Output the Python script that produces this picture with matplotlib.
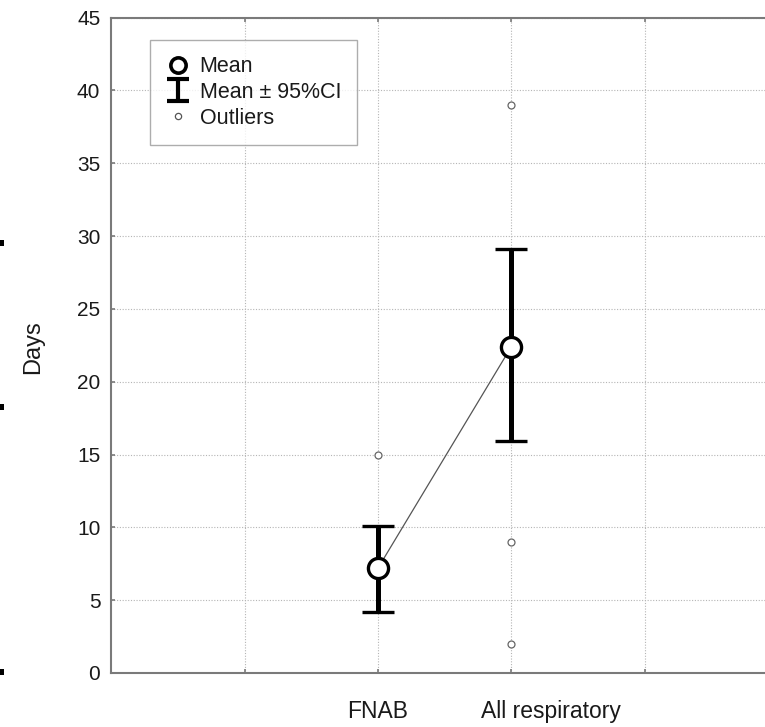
import numpy as np
import matplotlib
matplotlib.use('Agg')
from matplotlib import pyplot as plt
from matplotlib.lines import Line2D
from matplotlib.path import Path
from matplotlib.patches import Rectangle

plt.rcParams['font.family'] = ['Liberation Sans', 'DejaVu Sans']

# group summary values
groups = ['FNAB', 'All respiratory']
group_x = [2, 3]
means = np.array([7.2, 22.4])
ci_low = np.array([4.2, 15.9])
ci_high = np.array([10.1, 29.1])

# outliers per group
outlier_x = [2, 3, 3, 3]
outlier_y = [15, 39, 9, 2]

y_ticks = [0, 5, 10, 15, 20, 25, 30, 35, 40, 45]
x_grid = [1, 2, 3, 4]

W, H = 765, 727
fig = plt.figure(figsize=(W / 100, H / 100), dpi=100)
ax = fig.add_axes([111.4 / W, 1 - 673 / H, 666.5 / W, (673 - 17.5) / H])

ax.set_xlim(0, 5)
ax.set_ylim(0, 45)

gray = '#7a7a7a'
txt = '#1a1a1a'
for s in ['left', 'bottom', 'top']:
    ax.spines[s].set_color(gray)
    ax.spines[s].set_linewidth(1.5)
ax.spines['right'].set_visible(False)

ax.set_yticks(y_ticks)
ax.set_xticks(x_grid)
ax.set_xticklabels([])
ax.tick_params(axis='y', direction='in', length=3, width=1.2, color=gray,
               labelsize=15, pad=8, labelcolor=txt)
ax.tick_params(axis='x', direction='in', length=3, width=1.2, color=gray,
               top=True)
ax.grid(True, color='#b5b5b5', linestyle=(0, (1, 1.5)), linewidth=0.8)
ax.set_axisbelow(True)

# line joining the means
ax.plot(group_x, means, color='#555555', linewidth=0.9, zorder=3)

# mean with 95% CI
ax.errorbar(group_x, means, yerr=[means - ci_low, ci_high - means],
            fmt='o', color='black', ecolor='black', elinewidth=3.6,
            capsize=11.5, capthick=3.6, markersize=14.5,
            markerfacecolor='white', markeredgecolor='black',
            markeredgewidth=2.4, zorder=4)

# outliers
ax.plot(outlier_x, outlier_y, linestyle='none', marker='o', markersize=5,
        markerfacecolor='white', markeredgecolor='#666666',
        markeredgewidth=0.9, zorder=4)

# category labels under the axis
label_x = [2.0, 3.30]
for lx, name in zip(label_x, groups):
    ax.text(lx, -0.068, name, transform=ax.get_xaxis_transform(),
            ha='center', va='baseline', fontsize=16.5, color=txt)

fig.text(33 / W, 1 - 347 / H, 'Days', rotation=90, ha='center',
         va='center', fontsize=17, color=txt)

# legend
i_marker = Path([(-1, 1), (1, 1), (0, 1), (0, -1), (-1, -1), (1, -1)],
                [Path.MOVETO, Path.LINETO, Path.MOVETO, Path.LINETO,
                 Path.MOVETO, Path.LINETO])
handles = [
    Line2D([], [], linestyle='none', marker='o', markersize=11,
           markerfacecolor='white', markeredgecolor='black',
           markeredgewidth=2.6),
    Line2D([], [], linestyle='none', marker=i_marker, markersize=16,
           fillstyle='none', markeredgecolor='black', markeredgewidth=3),
    Line2D([], [], linestyle='none', marker='o', markersize=4.5,
           markerfacecolor='white', markeredgecolor='#555555',
           markeredgewidth=0.9),
]
labels = ['Mean', 'Mean \u00b1 95%CI', 'Outliers']
leg = ax.legend(handles, labels, loc='upper left',
                bbox_to_anchor=(150 / W, 1 - 40 / H),
                bbox_transform=fig.transFigure, borderaxespad=0,
                fontsize=15.5, frameon=True, fancybox=False,
                handlelength=1.1, handletextpad=0.45, borderpad=0.75,
                labelspacing=0.22)
leg.get_frame().set_edgecolor('#999999')
leg.get_frame().set_linewidth(1.0)
for t in leg.get_texts():
    t.set_color(txt)

# small scan marks at the left edge
for yc in [243, 407, 672]:
    fig.patches.append(Rectangle((0, 1 - (yc + 3) / H), 4 / W, 6 / H,
                                 transform=fig.transFigure,
                                 facecolor='black', edgecolor='none'))

fig.savefig('out.png', dpi=100)
